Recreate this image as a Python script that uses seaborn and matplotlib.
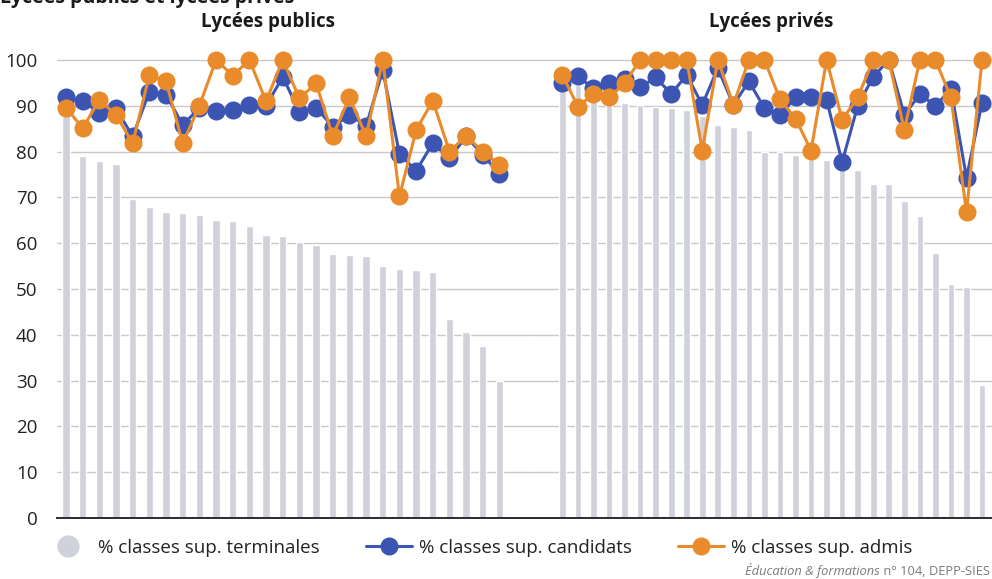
import matplotlib
matplotlib.use("Agg")
import matplotlib.pyplot as plt
from matplotlib.lines import Line2D
import numpy as np
import pandas as pd
import seaborn as sns

# Data (in %)
publics_terminales = [88.5, 79.0, 77.9, 77.2, 69.6, 67.9, 66.7, 66.5, 66.2, 65.1,
                      64.8, 63.8, 61.8, 61.5, 60.3, 59.5, 57.7, 57.4, 57.2, 55.0,
                      54.3, 54.1, 53.7, 43.5, 40.7, 37.6, 29.8]
publics_candidats = [91.8, 91.0, 88.5, 89.4, 83.3, 93.1, 92.4, 85.8, 89.5, 88.9,
                     89.1, 90.2, 90.0, 96.3, 88.7, 89.6, 85.4, 88.0, 85.6, 97.7,
                     79.5, 75.8, 81.8, 78.5, 83.3, 79.3, 75.1]
publics_admis = [89.6, 85.1, 91.3, 88.0, 81.8, 96.7, 95.3, 81.8, 90.0, 100,
                 96.6, 100, 91.0, 100, 91.6, 94.9, 83.4, 91.8, 83.4, 100,
                 70.2, 84.7, 91.1, 80.0, 83.4, 80.0, 77.1]

prives_terminales = [95.5, 94.5, 91.2, 90.8, 90.5, 90.1, 89.8, 89.6, 89.1, 87.8,
                     85.7, 85.3, 84.7, 79.9, 80.0, 79.3, 78.3, 78.2, 78.0, 76.0,
                     72.9, 72.9, 69.3, 65.9, 57.8, 51.1, 50.4, 29.0]
prives_candidats = [94.9, 96.4, 93.8, 94.9, 95.8, 94.0, 96.2, 92.6, 96.7, 90.2,
                    98.2, 90.2, 95.3, 89.5, 88.0, 91.8, 91.8, 91.3, 77.7, 90.0,
                    96.3, 100, 88.0, 92.5, 90.0, 93.6, 74.3, 90.7]
prives_admis = [96.7, 89.8, 92.5, 91.8, 94.9, 100, 100, 100, 100, 80.2,
                100, 90.2, 100, 100, 91.4, 87.2, 80.2, 100, 86.9, 91.8,
                100, 100, 84.7, 100, 100, 91.8, 66.8, 100]

groupes = ["Lycées publics", "Lycées privés"]
series_labels = ["% classes sup. terminales", "% classes sup. candidats",
                 "% classes sup. admis"]
yticks = list(range(0, 101, 10))

GRAY = "#cfd2db"
BLUE = "#3d55b2"
ORANGE = "#e98b2a"
GRID = "#c9c9c9"

sns.set_style("white")
plt.rcParams["font.family"] = ["Open Sans", "DejaVu Sans"]

fig = plt.figure(figsize=(9.92, 5.79), dpi=100)
bottom, height = 0.1054, 0.8069
ax_pub = fig.add_axes([0.05746, bottom, 0.4768, height])
ax_pri = fig.add_axes([0.5343, bottom, 0.4657, height], sharey=ax_pub)

datasets = [
    (ax_pub, publics_terminales, publics_candidats, publics_admis, (-0.54, 27.83), 0.44),
    (ax_pri, prives_terminales, prives_candidats, prives_admis, (-2.08, 27.64), 0.43),
]

for ax, term, cand, adm, xlim, bw in datasets:
    df = pd.DataFrame({"rang": np.arange(len(term)), "terminales": term,
                       "candidats": cand, "admis": adm})
    sns.barplot(data=df, x="rang", y="terminales", ax=ax, color=GRAY,
                saturation=1, width=bw, zorder=2)
    sns.lineplot(data=df, x="rang", y="candidats", ax=ax, color=BLUE,
                 marker="o", markersize=13, markeredgewidth=0, linewidth=2.2,
                 zorder=3, legend=False)
    sns.lineplot(data=df, x="rang", y="admis", ax=ax, color=ORANGE,
                 marker="o", markersize=13, markeredgewidth=0, linewidth=2.2,
                 zorder=4, legend=False)
    ax.set_xlim(*xlim)
    ax.set_ylim(0, 102)
    ax.set_yticks(yticks)
    ax.set_xticks([])
    ax.set_xlabel("")
    ax.set_ylabel("")
    ax.yaxis.grid(True, color=GRID, linewidth=1)
    ax.set_axisbelow(True)
    for s in ["top", "left", "right"]:
        ax.spines[s].set_visible(False)
    ax.spines["bottom"].set_color("#2b2b2b")
    ax.spines["bottom"].set_linewidth(1.4)
    ax.patch.set_alpha(0)
    for line in ax.lines:
        line.set_clip_on(False)

ax_pub.tick_params(axis="y", length=0, labelsize=13.5, labelcolor="#222222", pad=14)
ax_pri.tick_params(axis="y", length=0, labelleft=False)

# Group titles
fig.text(0.270, 0.962, groupes[0], ha="center", va="center",
         fontsize=13.5, fontweight="bold", color="#1a1a1a")
fig.text(0.777, 0.962, groupes[1], ha="center", va="center",
         fontsize=13.5, fontweight="bold", color="#1a1a1a")

# Main title, cut off at the top edge as in the reference
fig.text(0.0, 1.003, "Lycées publics et lycées privés", ha="left", va="center",
         fontsize=14, fontweight="bold", color="#1a1a1a")

# Legend
handles = [
    Line2D([], [], linestyle="none", marker="o", markersize=16,
           markerfacecolor=GRAY, markeredgewidth=0),
    Line2D([], [], color=BLUE, linewidth=2.2, marker="o", markersize=13,
           markeredgewidth=0),
    Line2D([], [], color=ORANGE, linewidth=2.2, marker="o", markersize=13,
           markeredgewidth=0),
]
fig.legend(handles, series_labels, loc="center left",
           bbox_to_anchor=(0.028, 0.0535), ncol=3, frameon=False,
           fontsize=13.5, handlelength=2.45, handletextpad=0.4,
           columnspacing=2.45, labelcolor="#222222")

# Source
fig.canvas.draw()
src_right = fig.text(0.998, 0.007, " n° 104, DEPP-SIES", ha="right",
                     va="baseline", fontsize=9.3, color="#7a7a7a")
bb = src_right.get_window_extent(fig.canvas.get_renderer())
fig.text(bb.x0 / fig.bbox.width, 0.007, "Éducation & formations", ha="right",
         va="baseline", fontsize=9.3, color="#7a7a7a", style="italic")

fig.savefig("out.png", dpi=100)
